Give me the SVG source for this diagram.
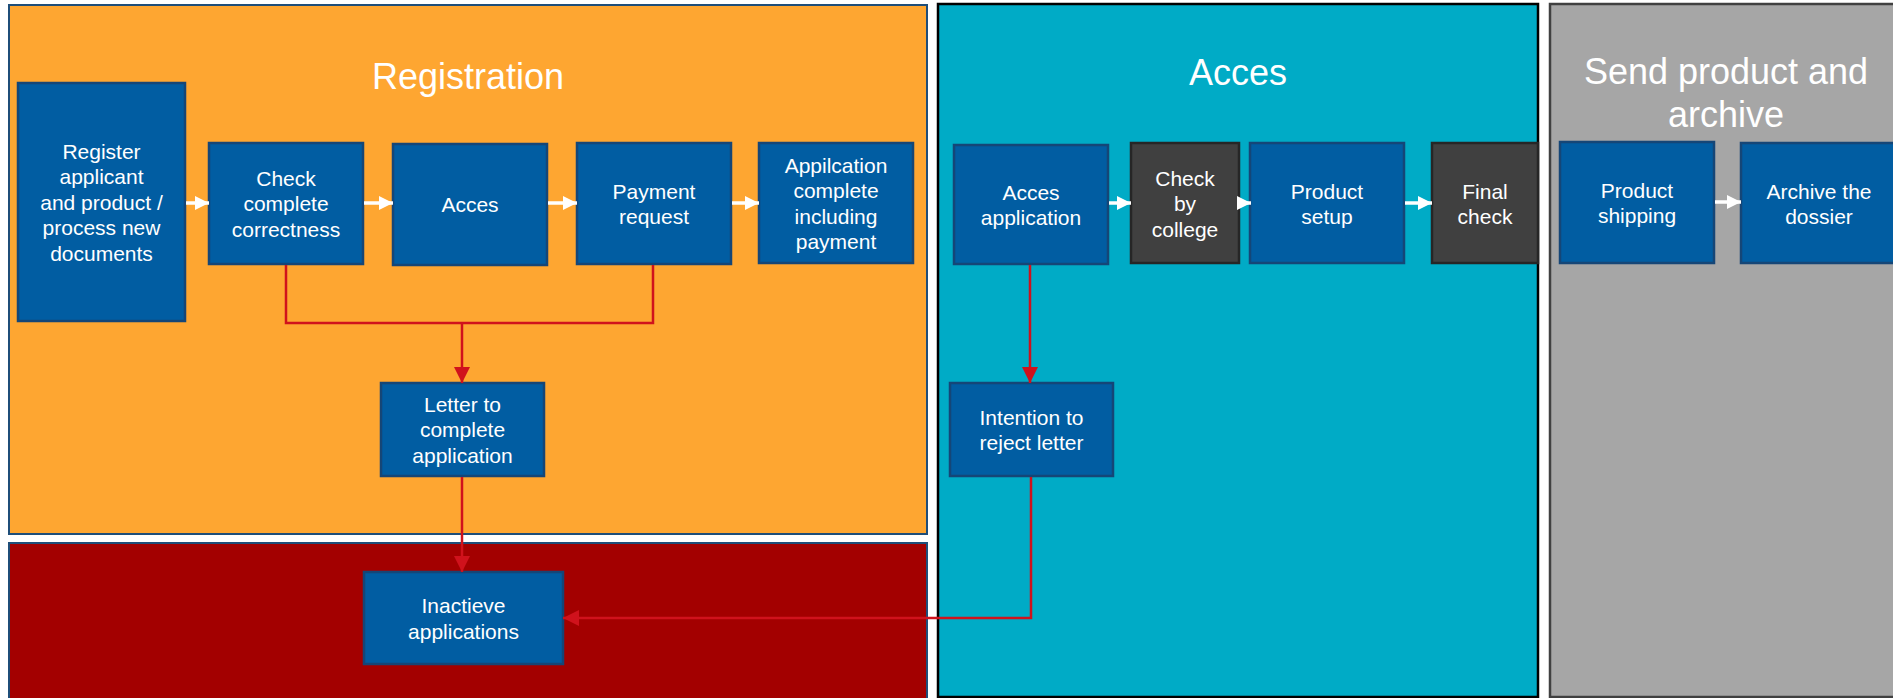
<svg xmlns="http://www.w3.org/2000/svg" width="1893" height="698" viewBox="0 0 1893 698">
<defs>
<style>
.panel-title{font-family:"Liberation Sans",Arial,sans-serif;font-size:36px;fill:#ffffff;text-anchor:middle}
.node rect{fill:#015DA2;stroke:#154677;stroke-width:2.5}
.node.dark rect{fill:#404040;stroke:#262626}
.node text{font-family:"Liberation Sans",Arial,sans-serif;font-size:21px;fill:#ffffff;text-anchor:middle}
.flow{stroke:#ffffff;stroke-width:3.5;fill:none;marker-end:url(#wh)}
.red{stroke:#D0121C;stroke-width:2.5;fill:none}
.redarrow{stroke:#D0121C;stroke-width:2.5;fill:none;marker-end:url(#rh)}
</style>
<marker id="wh" viewBox="0 0 14 14" markerWidth="14" markerHeight="14" refX="14" refY="7" orient="auto" markerUnits="userSpaceOnUse"><path d="M0,0 L14,7 L0,14 z" fill="#ffffff"/></marker>
<marker id="rh" viewBox="0 0 16 16" markerWidth="16" markerHeight="16" refX="16" refY="8" orient="auto" markerUnits="userSpaceOnUse"><path d="M0,0 L16,8 L0,16 z" fill="#D0121C"/></marker>
</defs>
<rect x="0" y="0" width="1893" height="698" fill="#ffffff"/>
<g id="panels">
<g id="panel-registration">
<rect x="9" y="5" width="918" height="529" fill="#FEA631" stroke="#1F4E79" stroke-width="2"/>
<text class="panel-title" x="468" y="89">Registration</text>
</g>
<g id="panel-inactive">
<rect x="9" y="543" width="918" height="170" fill="#A30000" stroke="#1F4E79" stroke-width="2"/>
</g>
<g id="panel-acces">
<rect x="938" y="4" width="600" height="693" fill="#00ABC6" stroke="#000000" stroke-width="2.5"/>
<text class="panel-title" x="1238" y="85">Acces</text>
</g>
<g id="panel-send">
<rect x="1550" y="4" width="360" height="693" fill="#A6A6A6" stroke="#404040" stroke-width="2.5"/>
<text class="panel-title" x="1726" y="84">Send product and</text>
<text class="panel-title" x="1726" y="127">archive</text>
</g>
</g>
<g id="node-register" class="node">
<rect x="18" y="83" width="167" height="238"/>
<text x="101.5" y="158.5">Register</text>
<text x="101.5" y="184">applicant</text>
<text x="101.5" y="209.5">and product /</text>
<text x="101.5" y="235">process new</text>
<text x="101.5" y="260.5">documents</text>
</g>
<g id="node-check-complete" class="node">
<rect x="209" y="143" width="154" height="121"/>
<text x="286" y="185.5">Check</text>
<text x="286" y="211">complete</text>
<text x="286" y="236.5">correctness</text>
</g>
<g id="node-acces" class="node">
<rect x="393" y="144" width="154" height="121"/>
<text x="470" y="212">Acces</text>
</g>
<g id="node-payment" class="node">
<rect x="577" y="143" width="154" height="121"/>
<text x="654" y="198.5">Payment</text>
<text x="654" y="224">request</text>
</g>
<g id="node-app-complete" class="node">
<rect x="759" y="143" width="154" height="120"/>
<text x="836" y="172.5">Appilcation</text>
<text x="836" y="198">complete</text>
<text x="836" y="223.5">including</text>
<text x="836" y="249">payment</text>
</g>
<g id="node-letter" class="node">
<rect x="381" y="383" width="163" height="93"/>
<text x="462.5" y="411.5">Letter to</text>
<text x="462.5" y="437">complete</text>
<text x="462.5" y="462.5">application</text>
</g>
<g id="node-inactive" class="node">
<rect x="364" y="572" width="199" height="92"/>
<text x="463.5" y="613">Inactieve</text>
<text x="463.5" y="638.5">applications</text>
</g>
<g id="node-acces-app" class="node">
<rect x="954" y="145" width="154" height="119"/>
<text x="1031" y="199.5">Acces</text>
<text x="1031" y="225">application</text>
</g>
<g id="node-check-college" class="node dark">
<rect x="1131" y="143" width="108" height="120"/>
<text x="1185" y="185.5">Check</text>
<text x="1185" y="211">by</text>
<text x="1185" y="236.5">college</text>
</g>
<g id="node-product-setup" class="node">
<rect x="1250" y="143" width="154" height="120"/>
<text x="1327" y="198.5">Product</text>
<text x="1327" y="224">setup</text>
</g>
<g id="node-final-check" class="node dark">
<rect x="1432" y="143" width="106" height="120"/>
<text x="1485" y="198.5">Final</text>
<text x="1485" y="224">check</text>
</g>
<g id="node-intention" class="node">
<rect x="950" y="383" width="163" height="93"/>
<text x="1031.5" y="424.5">Intention to</text>
<text x="1031.5" y="450">reject letter</text>
</g>
<g id="node-shipping" class="node">
<rect x="1560" y="142" width="154" height="121"/>
<text x="1637" y="197.5">Product</text>
<text x="1637" y="223">shipping</text>
</g>
<g id="node-archive" class="node">
<rect x="1741" y="143" width="156" height="120"/>
<text x="1819" y="198.5">Archive the</text>
<text x="1819" y="224">dossier</text>
</g>
<g id="connectors">
<path class="flow" d="M186,203 H209"/>
<path class="flow" d="M364,203 H393"/>
<path class="flow" d="M548,203 H577"/>
<path class="flow" d="M732,203 H759"/>
<path class="flow" d="M1109,203 H1131"/>
<path class="flow" d="M1240,203 H1251"/>
<path class="flow" d="M1405,203 H1432"/>
<path class="flow" d="M1715,202 H1741"/>
<path class="red" d="M286,265 V323 H653 V265"/>
<path class="redarrow" d="M462,323 V383"/>
<path class="redarrow" d="M462,477 V572"/>
<path class="redarrow" d="M1030,265 V383"/>
<path class="redarrow" d="M1031,477 V618 H563"/>
</g>
</svg>
